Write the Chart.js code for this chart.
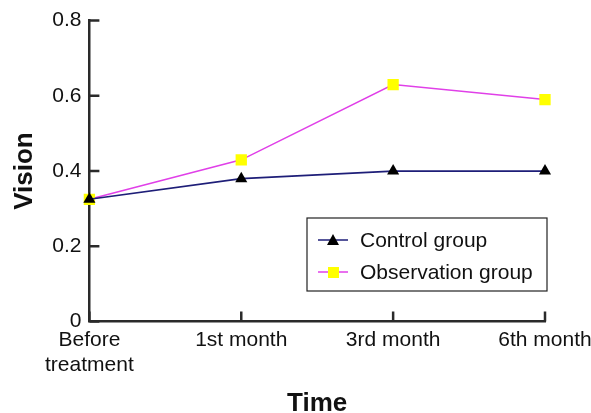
<!DOCTYPE html>
<html>
<head>
<meta charset="utf-8">
<script src="https://cdn.jsdelivr.net/npm/chart.js@4"></script>
<style>
  html, body { margin: 0; padding: 0; background: #fff; }
  #wrap { width: 591px; height: 413px; }
</style>
</head>
<body>
<div id="wrap"><canvas id="chart"></canvas></div>
<script>
var timeLabels = [["Before", "treatment"], "1st month", "3rd month", "6th month"];
var controlGroup = [0.325, 0.38, 0.40, 0.40];
var observationGroup = [0.325, 0.43, 0.63, 0.59];

var fontFamily = "'Liberation Sans', Arial, sans-serif";

// ticks in the original point into the plot, so draw them by hand
var inwardTicks = {
  id: "inwardTicks",
  afterDraw: function(chart) {
    var c = chart.ctx;
    var x = chart.scales.x, y = chart.scales.y;
    c.save();
    c.strokeStyle = "#2a2a2a";
    c.lineWidth = 2.5;
    c.beginPath();
    for (var i = 0; i < x.ticks.length; i++) {
      var px = x.getPixelForTick(i);
      c.moveTo(px, y.bottom);
      c.lineTo(px, y.bottom - 10);
    }
    for (var j = 0; j < y.ticks.length; j++) {
      var py = y.getPixelForTick(j);
      c.moveTo(x.left, py);
      c.lineTo(x.left + 10, py);
    }
    c.stroke();
    c.restore();
  }
};

// boxed legend sitting inside the plot area
var boxLegend = {
  id: "boxLegend",
  afterDraw: function(chart) {
    var c = chart.ctx;
    var bx = 307, by = 218, bw = 240, bh = 73;
    c.save();
    c.fillStyle = "#fff";
    c.fillRect(bx, by, bw, bh);
    c.strokeStyle = "#222";
    c.lineWidth = 1.2;
    c.strokeRect(bx, by, bw, bh);
    c.font = "21px " + fontFamily;
    c.textBaseline = "middle";
    chart.data.datasets.forEach(function(ds, i) {
      var ry = by + 22 + i * 32;
      c.strokeStyle = ds.borderColor;
      c.lineWidth = 1.5;
      c.beginPath();
      c.moveTo(bx + 11, ry);
      c.lineTo(bx + 41, ry);
      c.stroke();
      c.fillStyle = ds.pointBackgroundColor;
      if (ds.pointStyle === "triangle") {
        c.beginPath();
        c.moveTo(bx + 26, ry - 6);
        c.lineTo(bx + 32, ry + 5);
        c.lineTo(bx + 20, ry + 5);
        c.closePath();
        c.fill();
      } else {
        c.fillRect(bx + 21, ry - 5, 11, 11);
      }
      c.fillStyle = "#111";
      c.fillText(ds.label, bx + 53, ry + 1);
    });
    c.restore();
  }
};

new Chart(document.getElementById("chart"), {
  type: "line",
  data: {
    labels: timeLabels,
    datasets: [
      {
        label: "Control group",
        data: controlGroup,
        borderColor: "#1e1e78",
        borderWidth: 1.6,
        pointStyle: "triangle",
        pointRadius: 7,
        pointBackgroundColor: "#000",
        pointBorderColor: "#000",
        pointBorderWidth: 0
      },
      {
        label: "Observation group",
        data: observationGroup,
        borderColor: "#e040e8",
        borderWidth: 1.5,
        pointStyle: "rect",
        pointRadius: 8,
        pointBackgroundColor: "#ffff00",
        pointBorderColor: "#ffff00",
        pointBorderWidth: 0
      }
    ]
  },
  options: {
    responsive: true,
    maintainAspectRatio: false,
    animation: false,
    layout: { padding: { top: 10, left: 9, right: 0, bottom: -4 } },
    plugins: {
      legend: { display: false },
      tooltip: { enabled: false }
    },
    scales: {
      x: {
        offset: false,
        afterFit: function(scale) { scale.paddingRight = 46; },
        grid: { display: false, drawTicks: false },
        border: { display: true, color: "#2a2a2a", width: 2.5 },
        ticks: {
          color: "#111",
          padding: 6,
          maxRotation: 0,
          autoSkip: false,
          font: { family: fontFamily, size: 21, lineHeight: 1.2 }
        },
        title: {
          display: true,
          text: "Time",
          color: "#111",
          padding: { top: 7, bottom: 0 },
          font: { family: fontFamily, size: 26, weight: "bold", lineHeight: 1 }
        }
      },
      y: {
        min: 0,
        max: 0.8,
        grid: { display: false, drawTicks: false },
        border: { display: true, color: "#2a2a2a", width: 2.5 },
        ticks: {
          stepSize: 0.2,
          color: "#111",
          padding: 8,
          font: { family: fontFamily, size: 21 },
          callback: function(v) { return v === 0 ? "0" : v.toFixed(1); }
        },
        title: {
          display: true,
          text: "Vision",
          color: "#111",
          padding: { top: 0, bottom: 4 },
          font: { family: fontFamily, size: 26, weight: "bold" }
        }
      }
    }
  },
  plugins: [inwardTicks, boxLegend]
});
</script>
</body>
</html>
